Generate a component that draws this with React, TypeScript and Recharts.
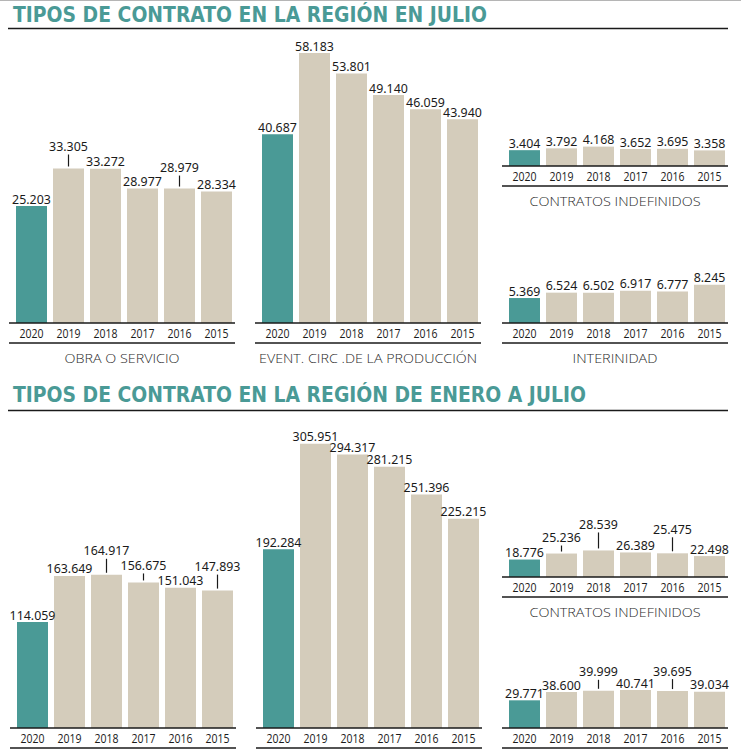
import React from 'react';
import { BarChart, Bar, XAxis, YAxis, Cell, LabelList } from 'recharts';

// años, de 2020 hacia atrás
const years = ['2020', '2019', '2018', '2017', '2016', '2015'];

// julio
const obraJulio = [25203, 33305, 33272, 28977, 28979, 28334];
const eventualJulio = [40687, 58183, 53801, 49140, 46059, 43940];
const indefinidosJulio = [3404, 3792, 4168, 3652, 3695, 3358];
const interinidadJulio = [5369, 6524, 6502, 6917, 6777, 8245];

// enero a julio
const obraAcum = [114059, 163649, 164917, 156675, 151043, 147893];
const eventualAcum = [192284, 305951, 294317, 281215, 251396, 225215];
const indefinidosAcum = [18776, 25236, 28539, 26389, 25475, 22498];
const interinidadAcum = [29771, 38600, 39999, 40741, 39695, 39034];

const TEAL = '#4a9a96';
const BEIGE = '#d4ccbb';
const INK = '#1a1a1a';

const LABEL_ROOM = 30;
const AXIS_H = 20;
const CHART_W = 226;

// separador de miles con punto, también para 4 cifras
const fmt = (v: number) => String(v).replace(/\B(?=(\d{3})+(?!\d))/g, '.');

interface PanelDef {
    values: number[];
    barLeft: number;
    baseline: number;
    plotH: number;
    max: number;
    lift: number[];
    caption?: string;
    captionW?: number;
}

const panels: PanelDef[] = [
    { values: obraJulio, barLeft: 16, baseline: 323, plotH: 283, max: 61000, lift: [0, 22, 0, 0, 21, 0], caption: 'OBRA O SERVICIO', captionW: 115 },
    { values: eventualJulio, barLeft: 262, baseline: 323, plotH: 283, max: 61000, lift: [0, 0, 0, 0, 0, 0], caption: 'EVENT. CIRC .DE LA PRODUCCIÓN', captionW: 218 },
    { values: indefinidosJulio, barLeft: 509, baseline: 166, plotH: 40, max: 8600, lift: [0, 0, 0, 0, 0, 0], caption: 'CONTRATOS INDEFINIDOS', captionW: 171 },
    { values: interinidadJulio, barLeft: 509, baseline: 323, plotH: 40, max: 8600, lift: [0, 0, 0, 0, 0, 0], caption: 'INTERINIDAD', captionW: 85 },
    { values: obraAcum, barLeft: 17, baseline: 728, plotH: 288, max: 310000, lift: [0, 0, 24, 17, 0, 24] },
    { values: eventualAcum, barLeft: 263, baseline: 728, plotH: 288, max: 310000, lift: [0, 0, 0, 0, 0, 0] },
    { values: indefinidosAcum, barLeft: 509, baseline: 577, plotH: 40, max: 43000, lift: [0, 16, 26, 0, 24, 0], caption: 'CONTRATOS INDEFINIDOS', captionW: 171 },
    { values: interinidadAcum, barLeft: 509, baseline: 728, plotH: 40, max: 43000, lift: [0, 0, 19, 0, 20, 0] },
];

const YearTick = (props: any) => {
    const { x, y, payload } = props;
    return (
        <text
            x={x}
            y={y + 10}
            textAnchor="middle"
            dominantBaseline="central"
            textLength={24}
            lengthAdjust="spacingAndGlyphs"
            fontFamily="'Open Sans', 'Noto Sans', sans-serif"
            fontWeight={400}
            fontSize={13.5}
            fill={INK}
        >
            {payload.value}
        </text>
    );
};

function renderValue(props: any, lift: number[]) {
    const { x, y, width, value, index } = props;
    const cx = Number(x) + Number(width) / 2;
    const top = Number(y);
    const up = lift[index] || 7;
    const ly = top - up;
    return (
        <g key={`lbl-${index}`}>
            {lift[index] ? (
                <line x1={cx} x2={cx} y1={ly + 8} y2={top - 2} stroke={INK} strokeWidth={1.2} />
            ) : null}
            <text
                x={cx}
                y={ly}
                textAnchor="middle"
                dominantBaseline="central"
                fontFamily="'Noto Sans', sans-serif"
                fontSize={12.4}
                fill={INK}
            >
                {fmt(Number(value))}
            </text>
        </g>
    );
}

function Panel({ p }: { p: PanelDef }) {
    const data = years.map((year, i) => ({ year, value: p.values[i] }));
    const height = LABEL_ROOM + p.plotH + AXIS_H;
    return (
        <div style={{ position: 'absolute', left: p.barLeft - 7, top: p.baseline - p.plotH - LABEL_ROOM }}>
            <BarChart
                width={CHART_W}
                height={height}
                data={data}
                margin={{ top: LABEL_ROOM, right: 0, bottom: 0, left: 0 }}
                barSize={31}
            >
                <XAxis
                    dataKey="year"
                    height={AXIS_H}
                    padding={{ left: 4, right: 0 }}
                    tickLine={false}
                    tickSize={0}
                    tickMargin={0}
                    interval={0}
                    axisLine={{ stroke: INK, strokeWidth: 1.3 }}
                    tick={<YearTick />}
                />
                <YAxis hide domain={[0, p.max]} />
                <Bar dataKey="value" isAnimationActive={false}>
                    {data.map((d, i) => (
                        <Cell key={d.year} fill={i === 0 ? TEAL : BEIGE} />
                    ))}
                    <LabelList dataKey="value" content={(props: any) => renderValue(props, p.lift)} />
                </Bar>
            </BarChart>
        </div>
    );
}

export default function App() {
    return (
        <div
            style={{
                position: 'absolute',
                left: 0,
                top: 0,
                width: 741,
                height: 751,
                background: '#fff',
                overflow: 'hidden',
            }}
        >
            <style>{'.recharts-surface{overflow:visible}'}</style>
            {panels.map((p, i) => (
                <Panel key={i} p={p} />
            ))}
            <svg
                width={741}
                height={751}
                style={{ position: 'absolute', left: 0, top: 0, pointerEvents: 'none' }}
            >
                <line x1={0} x2={741} y1={0.5} y2={0.5} stroke="#b5b5b5" strokeWidth={1} />
                <text
                    x={13}
                    y={22}
                    textLength={474}
                    lengthAdjust="spacingAndGlyphs"
                    fontFamily="'DejaVu Sans Condensed', 'DejaVu Sans', sans-serif"
                    fontWeight="bold"
                    fontSize={20.5}
                    fill={TEAL}
                >
                    TIPOS DE CONTRATO EN LA REGIÓN EN JULIO
                </text>
                <line x1={8} x2={728} y1={28.5} y2={28.5} stroke={INK} strokeWidth={1.4} />
                <text
                    x={13}
                    y={402}
                    textLength={573}
                    lengthAdjust="spacingAndGlyphs"
                    fontFamily="'DejaVu Sans Condensed', 'DejaVu Sans', sans-serif"
                    fontWeight="bold"
                    fontSize={20.5}
                    fill={TEAL}
                >
                    TIPOS DE CONTRATO EN LA REGIÓN DE ENERO A JULIO
                </text>
                <line x1={8} x2={728} y1={410.5} y2={410.5} stroke={INK} strokeWidth={1.4} />
                {panels.map((p, i) => {
                    const lineY = p.baseline + AXIS_H;
                    return (
                        <g key={i}>
                            <line x1={p.barLeft - 7} x2={p.barLeft + 219} y1={lineY} y2={lineY} stroke={INK} strokeWidth={1.3} />
                            {p.caption ? (
                                <text
                                    x={p.barLeft + 106}
                                    y={lineY + 20}
                                    textAnchor="middle"
                                    textLength={p.captionW}
                                    lengthAdjust="spacingAndGlyphs"
                                    fontFamily="'Open Sans', 'Noto Sans', sans-serif"
                                    fontWeight={300}
                                    fontSize={13.5}
                                    fill="#2a2a2a"
                                >
                                    {p.caption}
                                </text>
                            ) : null}
                        </g>
                    );
                })}
            </svg>
        </div>
    );
}
